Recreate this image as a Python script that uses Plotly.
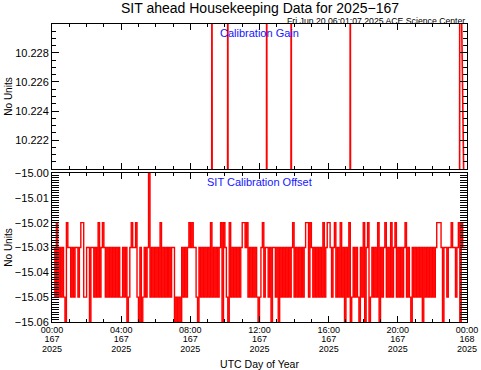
import plotly.graph_objects as go
import pandas as pd

# ---------------- data ----------------
title_text = "SIT ahead Housekeeping Data for 2025\u2212167"
stamp_text = "Fri Jun 20 06:01:07 2025 ACE Science Center"

gain_times = ["2025-06-16 00:00", "2025-06-16 09:14", "2025-06-16 09:15", "2025-06-16 09:16",
              "2025-06-16 10:09", "2025-06-16 10:10", "2025-06-16 10:11",
              "2025-06-16 12:24", "2025-06-16 12:25", "2025-06-16 12:26",
              "2025-06-16 13:49", "2025-06-16 13:50", "2025-06-16 13:51",
              "2025-06-16 17:14", "2025-06-16 17:15", "2025-06-16 17:16",
              "2025-06-16 23:34", "2025-06-16 23:35", "2025-06-16 23:36",
              "2025-06-16 23:55"]
gain_values = [10.21, 10.21, 10.24, 10.21,
               10.21, 10.24, 10.21,
               10.21, 10.24, 10.21,
               10.21, 10.24, 10.21,
               10.21, 10.24, 10.21,
               10.21, 10.24, 10.21,
               10.21]

offset_start = "2025-06-16 00:00"
offset_step = "5min"
offset_values = [
    -15.03, -15.03, -15.05, -15.02, -15.05, -15.03, -15.05, -15.03, -15.05, -15.06, -15.02, -15.03,
    -15.03, -15.05, -15.03, -15.05, -15.03, -15.03, -15.05, -15.03, -15.02, -15.02, -15.05, -15.05,
    -15.03, -15.03, -15.06, -15.03, -15.03, -15.05, -15.03, -15.05, -15.02, -15.05, -15.03, -15.02,
    -15.03, -15.05, -15.03, -15.05, -15.03, -15.05, -15.03, -15.05, -15.03, -15.05, -15.03, -15.05,
    -15.05, -15.03, -15.05, -15.03, -15.06, -15.05, -15.03, -15.02, -15.03, -15.03, -15.02, -15.05,
    -15.06, -15.03, -15.06, -15.05, -15.03, -15.05, -15.03, -15.00, -15.05, -15.03, -15.05, -15.03,
    -15.05, -15.03, -15.05, -15.02, -15.05, -15.03, -15.05, -15.03, -15.05, -15.03, -15.05, -15.03,
    -15.03, -15.06, -15.05, -15.06, -15.05, -15.06, -15.03, -15.05, -15.03, -15.05, -15.03, -15.02,
    -15.03, -15.02, -15.03, -15.03, -15.05, -15.06, -15.03, -15.05, -15.03, -15.05, -15.03, -15.05,
    -15.03, -15.05, -15.02, -15.05, -15.03, -15.05, -15.03, -15.05, -15.03, -15.02, -15.06, -15.02,
    -15.03, -15.05, -15.06, -15.02, -15.05, -15.03, -15.05, -15.03, -15.05, -15.03, -15.05, -15.03,
    -15.02, -15.02, -15.03, -15.02, -15.05, -15.03, -15.05, -15.03, -15.05, -15.03, -15.05, -15.06,
    -15.05, -15.03, -15.02, -15.05, -15.03, -15.03, -15.05, -15.03, -15.06, -15.03, -15.03, -15.05,
    -15.03, -15.06, -15.03, -15.05, -15.03, -15.05, -15.03, -15.05, -15.03, -15.05, -15.03, -15.02,
    -15.05, -15.03, -15.05, -15.03, -15.05, -15.03, -15.05, -15.03, -15.02, -15.02, -15.05, -15.02,
    -15.03, -15.05, -15.03, -15.05, -15.03, -15.05, -15.03, -15.05, -15.02, -15.05, -15.03, -15.02,
    -15.02, -15.03, -15.05, -15.03, -15.02, -15.05, -15.03, -15.05, -15.02, -15.05, -15.03, -15.06,
    -15.03, -15.05, -15.02, -15.06, -15.05, -15.03, -15.05, -15.03, -15.05, -15.06, -15.03, -15.05,
    -15.02, -15.06, -15.03, -15.02, -15.06, -15.05, -15.03, -15.05, -15.03, -15.05, -15.02, -15.06,
    -15.03, -15.05, -15.03, -15.02, -15.05, -15.03, -15.05, -15.02, -15.05, -15.03, -15.02, -15.05,
    -15.03, -15.05, -15.03, -15.05, -15.03, -15.02, -15.05, -15.03, -15.05, -15.06, -15.03, -15.05,
    -15.03, -15.05, -15.03, -15.05, -15.03, -15.06, -15.03, -15.05, -15.03, -15.05, -15.03, -15.05,
    -15.03, -15.05, -15.03, -15.02, -15.02, -15.02, -15.03, -15.06, -15.03, -15.03, -15.05, -15.03,
    -15.03, -15.02, -15.03, -15.03, -15.05, -15.03, -15.02, -15.06, -15.02, -15.03, -15.03, -15.03,
]

tick_times = ["2025-06-16 00:00", "2025-06-16 04:00", "2025-06-16 08:00", "2025-06-16 12:00",
              "2025-06-16 16:00", "2025-06-16 20:00", "2025-06-17 00:00"]
tick_clock = ["00:00", "04:00", "08:00", "12:00", "16:00", "20:00", "00:00"]
tick_day = ["167", "167", "167", "167", "167", "167", "168"]
tick_year = ["2025", "2025", "2025", "2025", "2025", "2025", "2025"]

# ---------------- figure ----------------
offset_times = pd.date_range(offset_start, periods=len(offset_values), freq=offset_step)

FONT = "Liberation Sans, Arial, sans-serif"
RED = "#ff0000"
BLUE = "#1515ff"
LAB_FS = 9

fig = go.Figure()
fig.add_trace(go.Scatter(x=pd.to_datetime(gain_times), y=gain_values, mode="lines",
                         line=dict(color=RED, width=1.6), xaxis="x", yaxis="y",
                         showlegend=False, hoverinfo="skip"))
fig.add_trace(go.Scatter(x=offset_times, y=offset_values, mode="lines",
                         line=dict(color=RED, width=1.4, shape="hv"), xaxis="x2", yaxis="y2",
                         showlegend=False, hoverinfo="skip"))
# transparent copies so the extra label-only axes (day / year rows) are drawn
for ax in ("x3", "x4"):
    fig.add_trace(go.Scatter(x=offset_times, y=offset_values, mode="lines", opacity=0,
                             line=dict(color=RED, width=1), xaxis=ax, yaxis="y2",
                             showlegend=False, hoverinfo="skip"))

xr = ["2025-06-16 00:00", "2025-06-17 00:00"]
common_x = dict(range=xr, tickmode="array", tickvals=tick_times, ticks="inside", ticklen=6,
                tickcolor="black", showline=True, linecolor="black", linewidth=1,
                mirror="allticks", showgrid=False, zeroline=False,
                minor=dict(dtick=3600000, ticks="inside", ticklen=3, tickcolor="black",
                           showgrid=False))
label_x = dict(range=xr, tickmode="array", tickvals=tick_times, ticks="", showline=False,
               showgrid=False, zeroline=False, anchor="y2", overlaying="x2", side="bottom",
               tickfont=dict(family=FONT, size=LAB_FS, color="black"))
common_y = dict(ticks="inside", ticklen=7, tickcolor="black", showline=True,
                linecolor="black", linewidth=1, mirror="allticks", showgrid=False,
                zeroline=False, tickfont=dict(family=FONT, size=11, color="black"),
                title=dict(text="No Units", font=dict(family=FONT, size=10, color="black"),
                           standoff=0))

fig.update_layout(
    width=481, height=370,
    margin=dict(l=52, r=14, t=24, b=48, autoexpand=False),
    paper_bgcolor="white", plot_bgcolor="white",
    font=dict(family=FONT, color="black"),
    xaxis=dict(domain=[0, 1], anchor="y", showticklabels=False, **common_x),
    xaxis2=dict(domain=[0, 1], anchor="y2", matches="x", ticktext=tick_clock,
                tickfont=dict(family=FONT, size=LAB_FS, color="black"), ticklabelstandoff=-1,
                title=dict(text="UTC Day of Year", font=dict(family=FONT, size=10.5, color="black"),
                           standoff=28),
                **common_x),
    xaxis3=dict(ticktext=tick_day, ticklabelstandoff=10, **label_x),
    xaxis4=dict(ticktext=tick_year, ticklabelstandoff=20, **label_x),
    yaxis=dict(domain=[0.5134, 1], anchor="x", range=[10.22001, 10.22999], tickmode="linear",
               tick0=10.222, dtick=0.002, tickformat=".3f",
               minor=dict(dtick=0.0005, ticks="inside", ticklen=4, tickcolor="black",
                          showgrid=False),
               **common_y),
    yaxis2=dict(domain=[0, 0.5], anchor="x2", range=[-15.06001, -14.99999], tickmode="linear",
                tick0=-15.06, dtick=0.01, tickformat=".2f",
                minor=dict(dtick=0.001, ticks="inside", ticklen=4, tickcolor="black",
                           showgrid=False),
                **common_y),
    annotations=[
        dict(text=title_text, xref="paper", yref="paper", x=0.5, y=1, yshift=26,
             xanchor="center", yanchor="top", showarrow=False,
             font=dict(family=FONT, size=14, color="black")),
        dict(text=stamp_text, xref="paper", yref="paper", x=1, y=1, yshift=10,
             xanchor="right", yanchor="top", showarrow=False,
             font=dict(family=FONT, size=8.7, color="black")),
        dict(text="Calibration Gain", xref="x domain", yref="y domain", x=0.5, y=1, yshift=-1,
             xanchor="center", yanchor="top", showarrow=False,
             font=dict(family=FONT, size=11, color=BLUE)),
        dict(text="SIT Calibration Offset", xref="x2 domain", yref="y2 domain", x=0.5, y=1,
             yshift=-1, xanchor="center", yanchor="top", showarrow=False,
             font=dict(family=FONT, size=11, color=BLUE)),
    ],
)

fig.write_html("out.html", config={"displayModeBar": False},
               post_script="document.body.style.margin='0';")
